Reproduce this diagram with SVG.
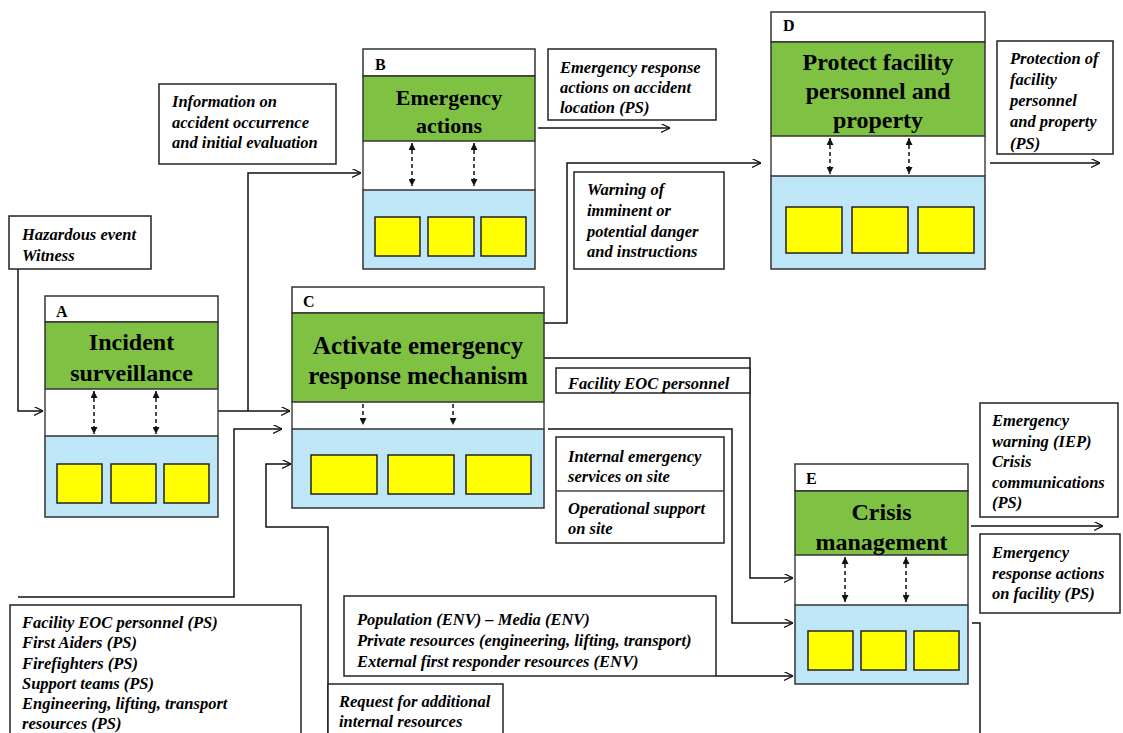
<svg xmlns="http://www.w3.org/2000/svg" width="1123" height="733" viewBox="0 0 1123 733">
<style>
.bg{fill:#ffffff}
.strip{fill:#ffffff;stroke:#333;stroke-width:1.5}
.green{fill:#7fc243;stroke:#333;stroke-width:1.5}
.blue{fill:#bfe6f6;stroke:#333;stroke-width:1.5}
.yel{fill:#ffff00;stroke:#222;stroke-width:1.5}
.side{stroke:#444;stroke-width:1.5;fill:none}
.lbl{fill:#fff;stroke:#222;stroke-width:1.5}
.ltr{font-family:"Liberation Serif",serif;font-weight:bold;font-size:16px;fill:#000}
.title{font-family:"Liberation Serif",serif;font-weight:bold;font-size:24px;fill:#000;text-anchor:middle}
.it{font-family:"Liberation Serif",serif;font-weight:bold;font-style:italic;font-size:16.5px;fill:#000}
.con{stroke:#111;stroke-width:1.5;fill:none}
.dash{stroke:#111;stroke-width:1.5;fill:none;stroke-dasharray:4,3}
</style>
<defs>
<marker id="open" viewBox="0 0 10 10" refX="10" refY="5" markerWidth="9" markerHeight="9" markerUnits="userSpaceOnUse" orient="auto">
<path d="M0,0 L10,5 L0,10" fill="none" stroke="#111" stroke-width="1.3"/>
</marker>
<marker id="tri" viewBox="0 0 10 10" refX="10" refY="5" markerWidth="7" markerHeight="7" markerUnits="userSpaceOnUse" orient="auto-start-reverse">
<path d="M0,0 L10,5 L0,10 Z" fill="#111"/>
</marker>
</defs>
<rect class="bg" x="0" y="0" width="1123" height="733"/>

<g id="connectors">
<polyline class="con" points="18,269 18,411 43,411" marker-end="url(#open)"/>
<polyline class="con" points="218,411 290,411" marker-end="url(#open)"/>
<polyline class="con" points="248,411 248,173 361,173" marker-end="url(#open)"/>
<polyline class="con" points="18,597 234,597 234,429 282,429" marker-end="url(#open)"/>
<polyline class="con" points="328,733 328,527 266,527 266,464 291,464" marker-end="url(#open)"/>
<polyline class="con" points="538,128 670,128" marker-end="url(#open)"/>
<polyline class="con" points="544,323 567,323 567,163 761,163" marker-end="url(#open)"/>
<polyline class="con" points="990,163 1100,163" marker-end="url(#open)"/>
<polyline class="con" points="544,358 750,358 750,578 793,578" marker-end="url(#open)"/>
<polyline class="con" points="548,429 732,429 732,623 793,623" marker-end="url(#open)"/>
<polyline class="con" points="716,676 793,676" marker-end="url(#open)"/>
<polyline class="con" points="971,526 1103,526" marker-end="url(#open)"/>
<polyline class="con" points="972,623 980,623 980,733"/>
</g>

<g id="nodeA">
<rect class="strip" x="45" y="296" width="173" height="26"/>
<text class="ltr" x="56" y="317">A</text>
<rect class="green" x="45" y="322" width="173" height="67"/>
<text class="title" x="131.5" y="350">Incident</text>
<text class="title" x="131.5" y="381">surveillance</text>
<line class="side" x1="45" y1="389" x2="45" y2="436"/>
<line class="side" x1="218" y1="389" x2="218" y2="436"/>
<line class="dash" x1="94" y1="391" x2="94" y2="434" marker-start="url(#tri)" marker-end="url(#tri)"/>
<line class="dash" x1="156" y1="391" x2="156" y2="434" marker-start="url(#tri)" marker-end="url(#tri)"/>
<rect class="blue" x="45" y="436" width="173" height="81"/>
<rect class="yel" x="57" y="464" width="45" height="39"/>
<rect class="yel" x="111" y="464" width="45" height="39"/>
<rect class="yel" x="164" y="464" width="45" height="39"/>
</g>

<g id="nodeB">
<rect class="strip" x="363" y="49" width="172" height="27"/>
<text class="ltr" x="375" y="70">B</text>
<rect class="green" x="363" y="76" width="172" height="65"/>
<text class="title" x="449" y="105" style="font-size:22px">Emergency</text>
<text class="title" x="449" y="133" style="font-size:22px">actions</text>
<line class="side" x1="363" y1="141" x2="363" y2="190"/>
<line class="side" x1="535" y1="141" x2="535" y2="190"/>
<line class="dash" x1="412" y1="143" x2="412" y2="186" marker-start="url(#tri)" marker-end="url(#tri)"/>
<line class="dash" x1="474" y1="143" x2="474" y2="186" marker-start="url(#tri)" marker-end="url(#tri)"/>
<rect class="blue" x="363" y="190" width="172" height="79"/>
<rect class="yel" x="375" y="217" width="45" height="39"/>
<rect class="yel" x="428" y="217" width="46" height="39"/>
<rect class="yel" x="481" y="217" width="45" height="39"/>
</g>

<g id="nodeC">
<rect class="strip" x="292" y="287" width="252" height="26"/>
<text class="ltr" x="303" y="307">C</text>
<rect class="green" x="292" y="313" width="252" height="89"/>
<text class="title" x="418" y="354" style="font-size:25px">Activate emergency</text>
<text class="title" x="418" y="384" style="font-size:25px">response mechanism</text>
<line class="side" x1="292" y1="402" x2="292" y2="429"/>
<line class="side" x1="544" y1="402" x2="544" y2="429"/>
<line class="dash" x1="363" y1="404" x2="363" y2="425" marker-end="url(#tri)"/>
<line class="dash" x1="453" y1="404" x2="453" y2="425" marker-end="url(#tri)"/>
<rect class="blue" x="292" y="429" width="252" height="79"/>
<rect class="yel" x="311" y="455" width="66" height="39"/>
<rect class="yel" x="388" y="455" width="66" height="39"/>
<rect class="yel" x="466" y="455" width="65" height="39"/>
</g>

<g id="nodeD">
<rect class="strip" x="771" y="12" width="214" height="30"/>
<text class="ltr" x="783" y="31">D</text>
<rect class="green" x="771" y="42" width="214" height="94"/>
<text class="title" x="878" y="70">Protect facility</text>
<text class="title" x="878" y="99">personnel and</text>
<text class="title" x="878" y="128">property</text>
<line class="side" x1="771" y1="136" x2="771" y2="176"/>
<line class="side" x1="985" y1="136" x2="985" y2="176"/>
<line class="dash" x1="830" y1="138" x2="830" y2="174" marker-start="url(#tri)" marker-end="url(#tri)"/>
<line class="dash" x1="909" y1="138" x2="909" y2="174" marker-start="url(#tri)" marker-end="url(#tri)"/>
<rect class="blue" x="771" y="176" width="214" height="93"/>
<rect class="yel" x="786" y="207" width="56" height="46"/>
<rect class="yel" x="852" y="207" width="56" height="46"/>
<rect class="yel" x="918" y="207" width="56" height="46"/>
</g>

<g id="nodeE">
<rect class="strip" x="795" y="464" width="173" height="27"/>
<text class="ltr" x="806" y="484">E</text>
<rect class="green" x="795" y="491" width="173" height="64"/>
<text class="title" x="881.5" y="520">Crisis</text>
<text class="title" x="881.5" y="550">management</text>
<line class="side" x1="795" y1="555" x2="795" y2="605"/>
<line class="side" x1="968" y1="555" x2="968" y2="605"/>
<line class="dash" x1="845" y1="557" x2="845" y2="602" marker-start="url(#tri)" marker-end="url(#tri)"/>
<line class="dash" x1="906" y1="557" x2="906" y2="602" marker-start="url(#tri)" marker-end="url(#tri)"/>
<rect class="blue" x="795" y="605" width="173" height="79"/>
<rect class="yel" x="808" y="631" width="45" height="39"/>
<rect class="yel" x="861" y="631" width="45" height="39"/>
<rect class="yel" x="914" y="631" width="45" height="39"/>
</g>

<g id="lbl-hazard">
<rect class="lbl" x="9" y="216" width="142" height="53"/>
<text class="it" x="22" y="240">Hazardous event</text>
<text class="it" x="22" y="261">Witness</text>
</g>
<g id="lbl-info">
<rect class="lbl" x="159" y="84" width="177" height="80"/>
<text class="it" x="172" y="107">Information on</text>
<text class="it" x="172" y="128">accident occurrence</text>
<text class="it" x="172" y="148">and initial evaluation</text>
</g>
<g id="lbl-erloc">
<rect class="lbl" x="548" y="49" width="168" height="71"/>
<text class="it" x="560" y="73">Emergency response</text>
<text class="it" x="560" y="93">actions on accident</text>
<text class="it" x="560" y="113">location (PS)</text>
</g>
<g id="lbl-warning">
<rect class="lbl" x="574" y="172" width="150" height="97"/>
<text class="it" x="587" y="195">Warning of</text>
<text class="it" x="587" y="216">imminent or</text>
<text class="it" x="587" y="237">potential danger</text>
<text class="it" x="587" y="257">and instructions</text>
</g>
<g id="lbl-protection">
<rect class="lbl" x="997" y="41" width="116" height="113"/>
<text class="it" x="1010" y="64">Protection of</text>
<text class="it" x="1010" y="85">facility</text>
<text class="it" x="1010" y="106">personnel</text>
<text class="it" x="1010" y="127">and property</text>
<text class="it" x="1010" y="149">(PS)</text>
</g>
<g id="lbl-eoc">
<rect class="lbl" x="556" y="368" width="194" height="25"/>
<text class="it" x="568" y="389">Facility EOC personnel</text>
</g>
<g id="lbl-internal">
<rect class="lbl" x="556" y="437" width="168" height="106"/>
<line class="side" x1="556" y1="491" x2="724" y2="491"/>
<text class="it" x="568" y="462">Internal emergency</text>
<text class="it" x="568" y="482">services on site</text>
<text class="it" x="568" y="514">Operational support</text>
<text class="it" x="568" y="534">on site</text>
</g>
<g id="lbl-ewarning">
<rect class="lbl" x="980" y="403" width="138" height="114"/>
<text class="it" x="992" y="426">Emergency</text>
<text class="it" x="992" y="447">warning (IEP)</text>
<text class="it" x="992" y="467">Crisis</text>
<text class="it" x="992" y="488">communications</text>
<text class="it" x="992" y="508">(PS)</text>
</g>
<g id="lbl-erfac">
<rect class="lbl" x="980" y="534" width="140" height="79"/>
<text class="it" x="992" y="558">Emergency</text>
<text class="it" x="992" y="579">response actions</text>
<text class="it" x="992" y="599">on facility (PS)</text>
</g>
<g id="lbl-population">
<rect class="lbl" x="344" y="596" width="372" height="80"/>
<text class="it" x="357" y="625">Population (ENV) – Media (ENV)</text>
<text class="it" x="357" y="646">Private resources (engineering, lifting, transport)</text>
<text class="it" x="357" y="667">External first responder resources (ENV)</text>
</g>
<g id="lbl-resources">
<rect class="lbl" x="10" y="605" width="291" height="140"/>
<text class="it" x="22" y="628">Facility EOC personnel (PS)</text>
<text class="it" x="22" y="648">First Aiders (PS)</text>
<text class="it" x="22" y="669">Firefighters (PS)</text>
<text class="it" x="22" y="689">Support teams (PS)</text>
<text class="it" x="22" y="709">Engineering, lifting, transport</text>
<text class="it" x="22" y="729">resources (PS)</text>
</g>
<g id="lbl-request">
<rect class="lbl" x="328" y="684" width="175" height="60"/>
<text class="it" x="339" y="707">Request for additional</text>
<text class="it" x="339" y="727">internal resources</text>
</g>
</svg>
